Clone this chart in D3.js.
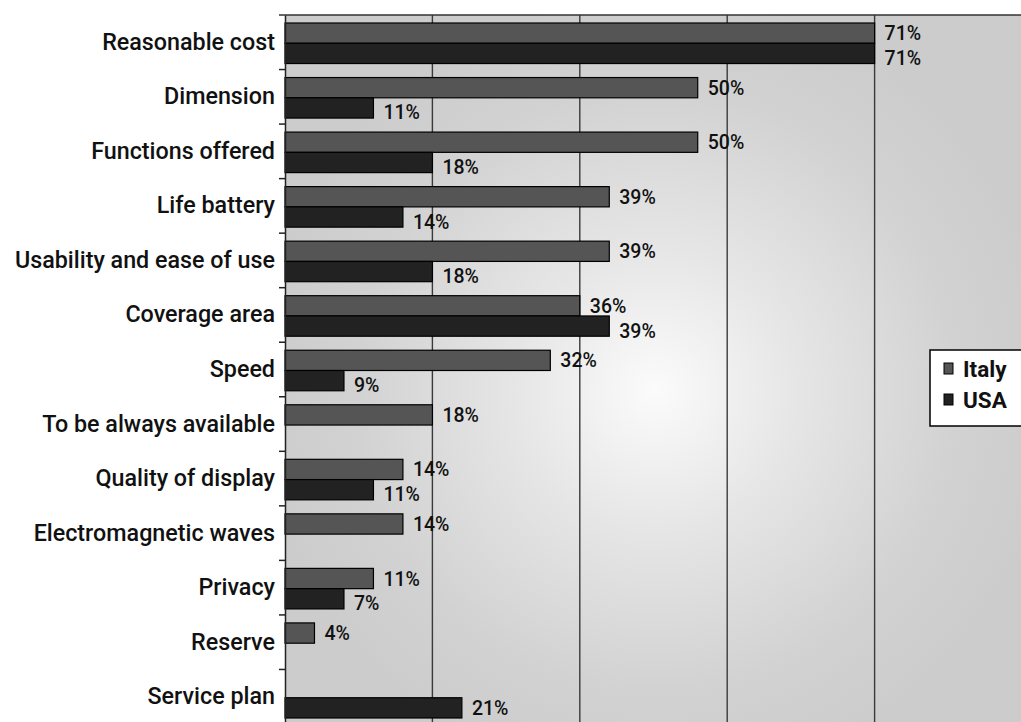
<!DOCTYPE html>
<html>
<head>
<meta charset="utf-8">
<script src="https://cdn.jsdelivr.net/npm/d3@7"></script>
<style>
  html, body { margin: 0; padding: 0; background: #fff; }
  svg { display: block; }
  text { font-family: Roboto, "Liberation Sans", Arial, sans-serif; fill: #111; }
</style>
</head>
<body>
<svg id="chart" width="1021" height="722"></svg>
<script>
// ---- data ----
const categories = [
  "Reasonable cost", "Dimension", "Functions offered", "Life battery",
  "Usability and ease of use", "Coverage area", "Speed", "To be always available",
  "Quality of display", "Electromagnetic waves", "Privacy", "Reserve", "Service plan"
];
const seriesNames = ["Italy", "USA"];
const italyCounts = [20, 14, 14, 11, 11, 10, 9, 5, 4, 4, 3, 1, null];
const usaCounts   = [20, 3, 5, 4, 5, 11, 2, null, 3, null, 2, null, 6];
// printed labels
const italyLabels = ["71%", "50%", "50%", "39%", "39%", "36%", "32%", "18%", "14%", "14%", "11%", "4%", null];
const usaLabels   = ["71%", "11%", "18%", "14%", "18%", "39%", "9%", null, "11%", null, "7%", null, "21%"];
const gridValues  = [5, 10, 15, 20];
const xMax = 25;

// ---- layout ----
const svg = d3.select("#chart");
const L = 285, R = 1022, T = 15, B = 724;
const colors = { Italy: "#555555", USA: "#222222" };
const labelShift = { Italy: 7, USA: 11.5 };

const x = d3.scaleLinear().domain([0, xMax]).range([L, R]);
const y = d3.scaleBand().domain(categories).range([T, B]).paddingInner(0).paddingOuter(0);
const inner = d3.scaleBand().domain(seriesNames).range([8, y.bandwidth() - 6]).padding(0);

// background radial gradient
const defs = svg.append("defs");
const grad = defs.append("radialGradient").attr("id", "bg")
  .attr("gradientUnits", "userSpaceOnUse")
  .attr("cx", 655).attr("cy", 390).attr("r", 400);
grad.append("stop").attr("offset", "0%").attr("stop-color", "#fbfbfb");
grad.append("stop").attr("offset", "35%").attr("stop-color", "#e6e6e6");
grad.append("stop").attr("offset", "75%").attr("stop-color", "#d2d2d2");
grad.append("stop").attr("offset", "100%").attr("stop-color", "#cccccc");

svg.append("rect").attr("x", L).attr("y", T).attr("width", 1021 - L).attr("height", 722 - T)
  .attr("fill", "url(#bg)");

// gridlines
svg.append("g").selectAll("line").data(gridValues).join("line")
  .attr("x1", d => x(d)).attr("x2", d => x(d))
  .attr("y1", T).attr("y2", 722)
  .attr("stroke", "#3a3a3a").attr("stroke-width", 1.4);

// top border
svg.append("line").attr("x1", L - 6).attr("x2", 1021).attr("y1", T).attr("y2", T)
  .attr("stroke", "#333").attr("stroke-width", 1.5);

// bars
const rows = [];
categories.forEach((c, i) => {
  rows.push({ cat: c, s: "Italy", v: italyCounts[i], label: italyLabels[i] });
  rows.push({ cat: c, s: "USA", v: usaCounts[i], label: usaLabels[i] });
});
const valid = rows.filter(d => d.v != null);

svg.append("g").selectAll("rect").data(valid).join("rect")
  .attr("x", x(0))
  .attr("y", d => y(d.cat) + inner(d.s))
  .attr("width", d => x(d.v) - x(0))
  .attr("height", inner.bandwidth())
  .attr("fill", d => colors[d.s])
  .attr("stroke", "#000").attr("stroke-width", 1.2);

// value labels
svg.append("g").selectAll("text").data(valid).join("text")
  .attr("x", d => x(d.v) + 10)
  .attr("y", d => Math.min(y(d.cat) + inner(d.s) + inner.bandwidth() / 2 + labelShift[d.s], 715))
  .attr("font-size", 19.5)
  .attr("font-weight", 500)
  .text(d => d.label);

// left axis
const yAxis = d3.axisLeft(y).tickSize(0).tickPadding(10);
const gy = svg.append("g").attr("transform", `translate(${L},0)`).call(yAxis);
gy.select(".domain").attr("stroke", "#222").attr("stroke-width", 1.5);
gy.selectAll(".tick text").attr("font-size", 23.3).attr("font-weight", 500)
  .attr("fill", "#111")
  .attr("font-family", "Roboto, 'Liberation Sans', Arial, sans-serif");
// band boundary ticks
const bounds = categories.map(c => y(c)).concat([B]);
svg.append("g").selectAll("line").data(bounds.slice(1)).join("line")
  .attr("x1", L - 6).attr("x2", L).attr("y1", d => d).attr("y2", d => d)
  .attr("stroke", "#222").attr("stroke-width", 1.5);

// legend
const lg = svg.append("g").attr("transform", "translate(930,350)");
lg.append("rect").attr("x", 0).attr("y", 0).attr("width", 100).attr("height", 76)
  .attr("fill", "#fff").attr("stroke", "#000").attr("stroke-width", 1.5);
const li = lg.selectAll("g").data(seriesNames).join("g")
  .attr("transform", (d, i) => `translate(14,${13 + i * 31})`);
li.append("rect").attr("width", 9).attr("height", 11)
  .attr("fill", d => colors[d]).attr("stroke", "#000").attr("stroke-width", 1);
li.append("text").attr("x", 19).attr("y", 14).attr("font-size", 22.5).attr("font-weight", "bold")
  .text(d => d);
</script>
</body>
</html>
